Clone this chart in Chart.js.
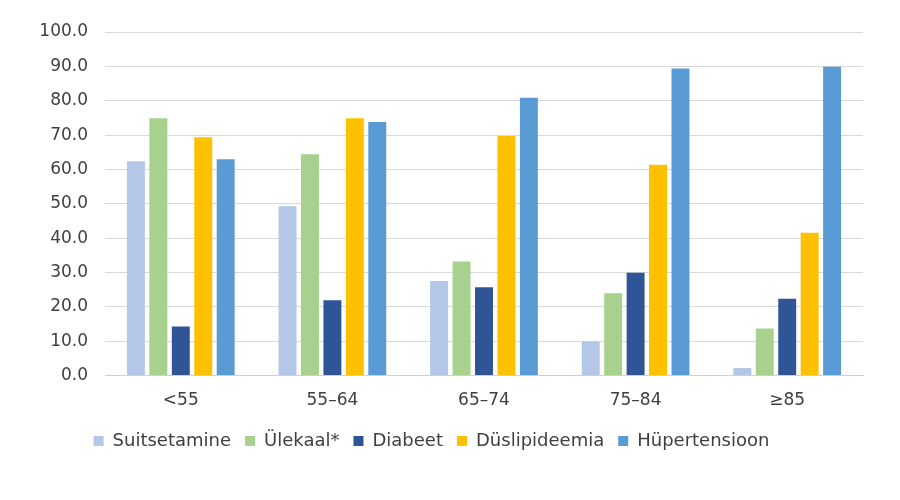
<!DOCTYPE html>
<html><head><meta charset="utf-8">
<script src="https://cdn.jsdelivr.net/npm/chart.js@4.4.1/dist/chart.umd.min.js"></script>
<style>html,body{margin:0;padding:0;background:#fff}#wrap{width:900px;height:500px}</style>
</head><body><div id="wrap"><canvas id="c"></canvas></div>
<script>
const categories = ['<55', '55–64', '65–74', '75–84', '≥85'];
const suitsetamine = [62.4, 49.3, 27.5, 9.9, 2.2];
const ulekaal = [74.9, 64.4, 33.2, 24.0, 13.7];
const diabeet = [14.3, 21.9, 25.7, 29.9, 22.4];
const duslipideemia = [69.4, 74.9, 69.7, 61.4, 41.6];
const hypertensioon = [63.0, 73.8, 80.9, 89.4, 89.9];
const seriesNames = ['Suitsetamine', 'Ülekaal*', 'Diabeet', 'Düslipideemia', 'Hüpertensioon'];
const colors = ['#B4C7E7', '#A9D18E', '#2F5597', '#FFC000', '#5B9BD5'];
const values = [suitsetamine, ulekaal, diabeet, duslipideemia, hypertensioon];

Chart.defaults.font.family = '"DejaVu Sans", sans-serif';
Chart.defaults.color = '#404040';

new Chart(document.getElementById('c'), {
  type: 'bar',
  data: {
    labels: categories,
    datasets: values.map((v, i) => ({
      label: seriesNames[i], data: v, backgroundColor: colors[i],
      barPercentage: 0.8, categoryPercentage: 0.74
    }))
  },
  options: {
    responsive: true, maintainAspectRatio: false, animation: false,
    layout: { padding: { left: 0, right: 37, top: 32, bottom: 40 } },
    plugins: {
      tooltip: { enabled: false },
      legend: {
        position: 'bottom',
        labels: { boxWidth: 10, boxHeight: 10, font: { size: 18 }, padding: 14, color: '#404040' }
      }
    },
    scales: {
      x: {
        grid: { display: false },
        border: { display: true, color: '#d0d0d0' },
        ticks: { font: { size: 17 }, padding: 7, color: '#404040' }
      },
      y: {
        min: 0, max: 100,
        afterFit: s => { s.width = 105; },
        grid: { color: '#d9d9d9', drawTicks: false },
        border: { display: false },
        ticks: { stepSize: 10, font: { size: 17 }, padding: 17, color: '#404040', callback: v => Number(v).toFixed(1) }
      }
    }
  }
});
</script></body></html>
